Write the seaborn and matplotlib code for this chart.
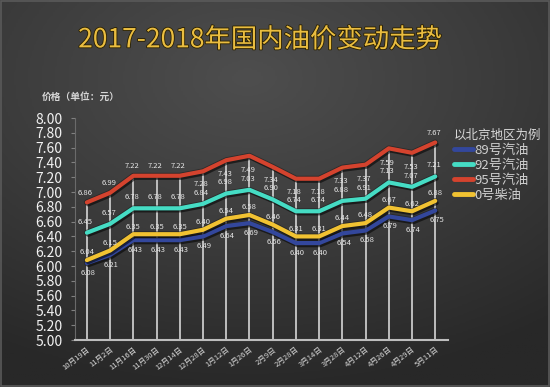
import numpy as np
import pandas as pd
import matplotlib
matplotlib.use('Agg')
import matplotlib.pyplot as plt
import matplotlib.patheffects as pe
from matplotlib.colors import LinearSegmentedColormap
from matplotlib.lines import Line2D
import seaborn as sns

# ── Data (北京地区油价, 元/升) ─────────────────────────────────────────────
dates = ["10月19日", "11月2日", "11月16日", "11月30日", "12月14日", "12月28日",
         "1月12日", "1月26日", "2月9日", "2月28日", "3月14日", "3月28日",
         "4月12日", "4月26日", "4月29日", "5月11日"]
p89 = [6.04, 6.15, 6.35, 6.35, 6.35, 6.40, 6.54, 6.58, 6.46, 6.31, 6.31, 6.44, 6.48, 6.67, 6.62, 6.75]
p92 = [6.45, 6.57, 6.78, 6.78, 6.78, 6.84, 6.98, 7.03, 6.90, 6.74, 6.74, 6.88, 6.91, 7.13, 7.07, 7.21]
p95 = [6.86, 6.99, 7.22, 7.22, 7.22, 7.28, 7.43, 7.49, 7.34, 7.18, 7.18, 7.33, 7.37, 7.59, 7.53, 7.67]
p0  = [6.08, 6.21, 6.43, 6.43, 6.43, 6.49, 6.64, 6.69, 6.56, 6.40, 6.40, 6.54, 6.58, 6.79, 6.74, 6.88]
series = ["89号汽油", "92号汽油", "95号汽油", "0号柴油"]
colors = {"89号汽油": "#33479c", "92号汽油": "#45dcc4", "95号汽油": "#d4432e", "0号柴油": "#f1c232"}
yticks = [5.0 + 0.2 * i for i in range(16)]

df = pd.DataFrame({
    "idx": list(range(len(dates))) * 4,
    "price": p89 + p92 + p95 + p0,
    "oil": sum([[s] * len(dates) for s in series], []),
})

sns.set_style("dark")
plt.rcParams['font.family'] = ['Noto Sans CJK SC', 'DejaVu Sans']

fig = plt.figure(figsize=(5.5, 3.87), dpi=100)

# ── Background gradient ───────────────────────────────────────────────────
bg = fig.add_axes([0, 0, 1, 1], zorder=-10)
yy, xx = np.mgrid[0:1:200j, 0:1:280j]
r = np.sqrt(((xx - 0.45) / 1.0) ** 2 + ((yy - 0.2) / 0.9) ** 2)
cmap = LinearSegmentedColormap.from_list("bg", ["#4e4e4e", "#3c3c3c", "#282828"])
bg.imshow(r, cmap=cmap, extent=[0, 1, 0, 1], aspect='auto', origin='upper', vmin=0, vmax=0.9)
bg.set_axis_off()
bg.add_patch(plt.Rectangle((0.002, 0.003), 0.996, 0.994, fill=False, ec="#5a5a5a", lw=1.2))

# ── Main axes ─────────────────────────────────────────────────────────────
ax = fig.add_axes([0.136, 0.1214, 0.679, 0.5736])
ax.patch.set_alpha(0)

ax.vlines(range(len(dates)), 5.0, p95, color="#c9c9c9", lw=1.3, zorder=1)

sns.lineplot(data=df, x="idx", y="price", hue="oil", hue_order=series, palette=colors,
             linewidth=3.0, sort=False, legend=False, ax=ax, zorder=3)
for ln in ax.lines:
    ln.set_solid_capstyle('round')
    ln.set_path_effects([pe.SimpleLineShadow(offset=(1, -1.5), shadow_color='black', alpha=0.55),
                         pe.Stroke(linewidth=4.2, foreground='#1c1c1c', alpha=0.6),
                         pe.Normal()])

ax.set_xlim(-0.52, 15.56)
ax.set_ylim(5.0, 8.0)
ax.set_yticks(yticks)
ax.set_yticklabels([f"{v:.2f}" for v in yticks])
ax.set_xticks(range(len(dates)))
ax.set_xticklabels(dates, rotation=38, ha='right', rotation_mode='anchor')
ax.set_xlabel("")
ax.set_ylabel("")
ax.grid(False)
for s in ["top", "right"]:
    ax.spines[s].set_visible(False)
ax.spines["bottom"].set_color("#bdbdbd")
ax.spines["bottom"].set_linewidth(1.5)
ax.spines["left"].set_color("#6a6a6a")
ax.spines["left"].set_linewidth(0.8)
ax.tick_params(axis='y', colors='#f2f2f2', labelsize=10, length=3, pad=6, left=True)
ax.tick_params(axis='y', color='#808080')
ax.tick_params(axis='x', colors='#d8d8d8', labelsize=5.5, length=0, pad=4)

# ── Data labels ───────────────────────────────────────────────────────────
lab = dict(fontsize=5.5, color="#e6e6e6", ha='center', va='center', textcoords='offset points', zorder=5)
upper_txt = p89[:-1] + p0[-1:]
lower_txt = p0[:-1] + p89[-1:]
for i in range(len(dates)):
    ax.annotate(f"{p92[i]:.2f}", (i, p92[i]), xytext=(-1, 8), **lab)
    if 5 <= i <= 14:
        ax.annotate(f"{p95[i]:.2f}", (i, p92[i]), xytext=(-1, 14), **lab)
    else:
        ax.annotate(f"{p95[i]:.2f}", (i, p95[i]), xytext=(-1, 7), **lab)
    ax.annotate(f"{upper_txt[i]:.2f}", (i, p0[i]), xytext=(0, 5.5), **lab)
    ax.annotate(f"{lower_txt[i]:.2f}", (i, p89[i]), xytext=(1, -7), **lab)

# ── Texts ─────────────────────────────────────────────────────────────────
fig.text(0.473, 0.897, "2017-2018年国内油价变动走势", ha='center', va='center', fontsize=19,
         color="#eabd40", path_effects=[pe.withStroke(linewidth=1.2, foreground="#2a2000")])
fig.text(0.076, 0.749, "价格（单位：元）", ha='left', va='center', fontsize=7, color="#d6d6d6",
         fontweight='bold')

handles = [Line2D([0], [0], color=colors[s], lw=3.5) for s in series]
leg = fig.legend(handles, series, loc='upper left', bbox_to_anchor=(0.815, 0.68),
                 frameon=False, fontsize=9.5, handlelength=1.5, handletextpad=0.1,
                 labelspacing=0.15, borderaxespad=0, title="以北京地区为例",
                 title_fontsize=9, alignment='left')
leg.get_title().set_color("#d8d8d8")
for t in leg.get_texts():
    t.set_color("#cfcfcf")

fig.savefig("out.png", dpi=100)
